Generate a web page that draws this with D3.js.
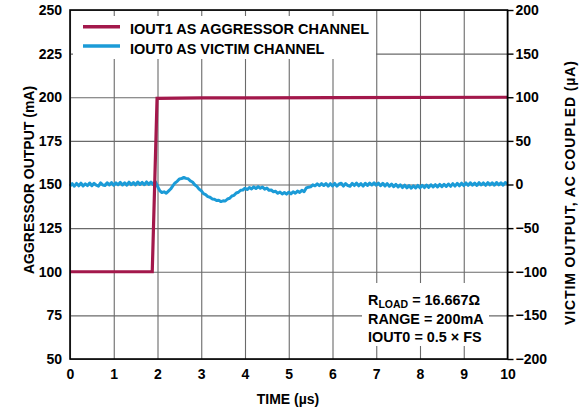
<!DOCTYPE html>
<html>
<head>
<meta charset="utf-8">
<script src="https://cdn.jsdelivr.net/npm/d3@7"></script>
<style>
  html, body { margin: 0; padding: 0; background: #fff; }
  svg { display: block; font-family: "Liberation Sans", Arial, sans-serif; font-weight: bold; }
</style>
</head>
<body>
<svg id="chart" width="583" height="412"></svg>
<script>
// Axis ticks
const timeTicks = [0, 1, 2, 3, 4, 5, 6, 7, 8, 9, 10];
const aggressorTicks = [50, 75, 100, 125, 150, 175, 200, 225, 250];
const victimTicks = [-200, -150, -100, -50, 0, 50, 100, 150, 200];

// IOUT1 (aggressor) output current, mA, versus time in µs
const aggressorTime = [0, 1.88, 1.99, 3, 6, 10];
const aggressorValue = [100, 100, 199.4, 199.6, 199.8, 200];

// IOUT0 (victim) AC-coupled output, µA, sampled every 0.05 µs from 0 µs
const victimStep = 0.05;
const victimValue = [
  -1.8, 0.9, -1.9, 1.2, -1.5, 1.6, -1.7, 0.8, -1.3, 1.7, -1.4, 1.4, -0.8, -1.9, 1.8, -0.6, -1.2, 2.0, -0.5, 2.2,
  -0.9, 1.9, -0.3, 2.5, -0.6, 2.0, -0.8, 2.7, -0.2, 2.3, -0.5, 2.9, 0.0, 2.4, -0.3, 3.0, 0.2, 2.7, 0.0, 3.2,
  -2.0, -7.0, -9.2, -8.4, -10.1, -7.6, -5.2, -1.5, 1.8, 3.6, 6.4, 6.8, 8.1, 7.0, 6.6, 4.2, 2.9, -0.3, -2.2, -5.3,
  -7.1, -10.4, -11.6, -13.9, -14.6, -16.5, -16.8, -18.4, -18.1, -19.6, -18.7, -18.9, -16.6, -15.8, -13.2, -12.4, -9.7, -8.9, -6.6, -6.3,
  -4.2, -5.8, -3.4, -5.1, -2.7, -4.6, -2.4, -4.4, -2.8, -5.3, -4.1, -6.7, -6.3, -8.4, -7.8, -10.1, -8.6, -10.9, -9.1, -11.0,
  -8.9, -10.7, -8.3, -10.0, -7.6, -9.1, -6.7, -8.3, -4.0, -3.1, -2.6, -0.4, -1.5, 0.8, -1.4, 1.0, -1.2, 1.1, -1.9, 0.9,
  -1.6, 1.2, -1.9, 0.6, 1.4, -1.8, 1.1, -1.3, -2.0, 1.3, -1.2, 1.6, -1.5, 1.0, -1.8, 1.4, -1.0, 1.7, -0.6, 2.0,
  -0.8, 1.6, -1.4, 1.4, -1.7, 1.0, -2.0, 0.5, -2.5, 0.1, -2.9, -0.4, -3.5, -0.8, -3.9, -1.3, -4.2, -1.5, -4.0, -1.1,
  -3.8, -0.9, -3.5, -0.6, -3.3, -0.3, -2.9, -0.2, -2.8, 0.1, -2.5, 0.2, -2.3, 0.6, -2.1, 1.0, -1.8, 1.3, -1.5, 1.5,
  -1.2, 1.8, -1.0, 2.0, -0.7, 1.7, -1.1, 2.1, -0.6, 1.8, -0.9, 2.2, -0.5, 1.9, -0.8, 2.3, -0.4, 2.0, -0.7, 2.2,
  0.6
];

const seriesNames = ["IOUT1 AS AGGRESSOR CHANNEL", "IOUT0 AS VICTIM CHANNEL"];
const seriesColors = ["#a3184b", "#1b9bd7"];
const noteLines = ["= 16.667Ω", "RANGE = 200mA", "IOUT0 = 0.5 × FS"];

const svg = d3.select("#chart");
const plotL = 70, plotR = 507.5, plotT = 10, plotB = 359;

const x = d3.scaleLinear().domain([0, 10]).range([plotL, plotR]);
const yL = d3.scaleLinear().domain([50, 250]).range([plotB, plotT]);
const yR = d3.scaleLinear().domain([-200, 200]).range([plotB, plotT]);

// Grid lines
const grid = svg.append("g").attr("class", "grid");
grid.append("g").attr("transform", `translate(0,${plotB})`)
  .call(d3.axisBottom(x).tickValues(timeTicks).tickSize(-(plotB - plotT)).tickFormat(""));
grid.append("g").attr("transform", `translate(${plotL},0)`)
  .call(d3.axisLeft(yL).tickValues(aggressorTicks).tickSize(-(plotR - plotL)).tickFormat(""));
grid.selectAll(".domain").remove();
grid.selectAll(".tick line").attr("stroke", "#6a6a6a").attr("stroke-width", 1.1);

// White panels behind legend and notes
svg.append("rect").attr("x", 73).attr("y", 16).attr("width", 303).attr("height", 43).attr("fill", "#fff");
svg.append("rect").attr("x", 362).attr("y", 283).attr("width", 127).attr("height", 63).attr("fill", "#fff");

// Data lines
const lineL = d3.line().x(d => x(d[0])).y(d => yL(d[1]));
const lineR = d3.line().x(d => x(d[0])).y(d => yR(d[1]));

const victimData = victimValue.map((v, i) => [i * victimStep, v]);
svg.append("path").datum(victimData)
  .attr("d", lineR).attr("fill", "none")
  .attr("stroke", seriesColors[1]).attr("stroke-width", 3).attr("stroke-linejoin", "round");

const aggressorData = aggressorTime.map((t, i) => [t, aggressorValue[i]]);
svg.append("path").datum(aggressorData)
  .attr("d", lineL).attr("fill", "none")
  .attr("stroke", seriesColors[0]).attr("stroke-width", 3.2);

// Frame
svg.append("rect").attr("x", plotL).attr("y", plotT)
  .attr("width", plotR - plotL).attr("height", plotB - plotT)
  .attr("fill", "none").attr("stroke", "#000").attr("stroke-width", 1.6);

const fmtMinus = d => d < 0 ? "\u2212" + Math.abs(d) : String(d);

// Axis tick labels
const xa = svg.append("g").attr("transform", `translate(0,${plotB})`)
  .call(d3.axisBottom(x).tickValues(timeTicks).tickSize(0).tickPadding(10));
const yla = svg.append("g").attr("transform", `translate(${plotL},0)`)
  .call(d3.axisLeft(yL).tickValues(aggressorTicks).tickSize(0).tickPadding(8));
const yra = svg.append("g").attr("transform", `translate(${plotR},0)`)
  .call(d3.axisRight(yR).tickValues(victimTicks).tickSize(6).tickPadding(2).tickFormat(fmtMinus));
[xa, yla, yra].forEach(g => {
  g.select(".domain").remove();
  g.attr("font-size", 14).attr("font-family", "Liberation Sans, Arial, sans-serif");
  g.selectAll("text").attr("fill", "#000").attr("font-weight", "bold");
});
yra.selectAll(".tick line").attr("stroke", "#000").attr("stroke-width", 1.4);

// Axis titles
svg.append("text").attr("x", 288).attr("y", 404).attr("text-anchor", "middle")
  .attr("font-size", 14).text("TIME (µs)");
svg.append("text").attr("transform", "translate(34,180) rotate(-90)").attr("text-anchor", "middle")
  .attr("font-size", 14).text("AGGRESSOR OUTPUT (mA)");
svg.append("text").attr("transform", "translate(575,193) rotate(-90)").attr("text-anchor", "middle")
  .attr("font-size", 14).attr("textLength", 264).attr("lengthAdjust", "spacing")
  .text("VICTIM OUTPUT, AC COUPLED (µA)");

// Legend
const legend = svg.append("g");
[26.7, 46].forEach((yy, i) => {
  legend.append("line").attr("x1", 83).attr("x2", 120).attr("y1", yy).attr("y2", yy)
    .attr("stroke", seriesColors[i]).attr("stroke-width", 3.5);
  legend.append("text").attr("x", 130).attr("y", yy + 7.5).attr("font-size", 14.5).text(seriesNames[i]);
});

// Notes
const note = svg.append("g").attr("font-size", 14.4);
const n1 = note.append("text").attr("x", 368).attr("y", 305);
n1.append("tspan").text("R");
n1.append("tspan").attr("font-size", 10.5).attr("dy", 3).text("LOAD");
n1.append("tspan").attr("dy", -3).text(" " + noteLines[0]);
note.append("text").attr("x", 368).attr("y", 323.5).text(noteLines[1]);
note.append("text").attr("x", 368).attr("y", 342).text(noteLines[2]);
</script>
</body>
</html>
